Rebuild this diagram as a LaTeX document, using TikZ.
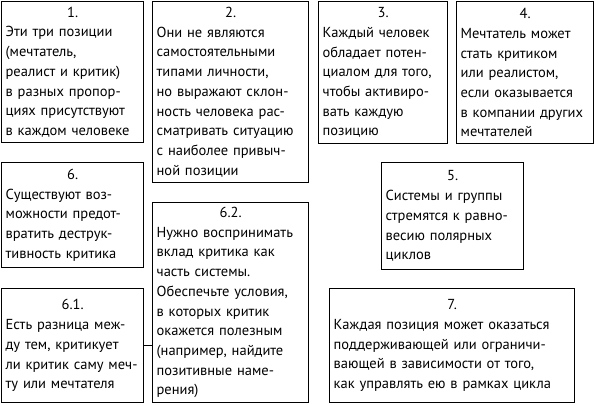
\documentclass[tikz,border=0pt]{standalone}
\usepackage{fontspec}
\setmainfont{PT Sans}
\usepackage{tikz}

\newcommand{\cardnum}[1]{\hbox to\hsize{\hfil#1\hfil}\\}

\begin{document}
\begin{tikzpicture}[x=1pt, y=1pt,
  card/.style={draw, line width=1.3pt, anchor=north west, align=left,
    inner xsep=4pt, inner ysep=4pt, font=\fontsize{14.5}{19.7}\selectfont}]
\useasboundingbox (0,0) rectangle (595,405);

\node[card, text width=134pt, minimum width=142pt, minimum height=141pt] (p1) at (1,404)
  {\cardnum{1.}Эти три позиции\\(мечтатель,\\реалист и критик)\\в разных пропор-\\циях присутствуют\\в каждом человеке};
\node[card, text width=148pt, minimum width=156pt, minimum height=181pt] (p2) at (152,404)
  {\cardnum{2.}Они не являются\\самостоятельными\\типами личности,\\но выражают склон-\\ность человека рас-\\сматривать ситуацию\\с наиболее привыч-\\ной позиции};
\node[card, text width=121pt, minimum width=129pt, minimum height=142pt] (p3) at (318,404)
  {\cardnum{3.}Каждый человек\\обладает потен-\\циалом для того,\\чтобы активиро-\\вать каждую\\позицию};
\node[card, text width=129pt, minimum width=137pt, minimum height=142pt] (p4) at (456,404)
  {\cardnum{4.}Мечтатель может\\стать критиком\\или реалистом,\\если оказывается\\в компании других\\мечтателей};

\node[card, text width=134pt, minimum width=142pt, minimum height=105pt] (p6) at (1,243)
  {\cardnum{6.}Существуют воз-\\можности предот-\\вратить деструк-\\тивность критика};
\node[card, text width=134pt, minimum width=142pt, minimum height=107pt] (p5) at (381,243)
  {\cardnum{5.}Системы и группы\\стремятся к равно-\\весию полярных\\циклов};
\node[card, text width=148pt, minimum width=156pt, minimum height=200pt] (p62) at (152,203)
  {\cardnum{6.2.}Нужно воспринимать\\вклад критика как\\часть системы.\\Обеспечьте условия,\\в которых критик\\окажется полезным\\(например, найдите\\позитивные наме-\\рения)};
\node[card, text width=134pt, minimum width=142pt, minimum height=114pt] (p61) at (1,117)
  {\cardnum{6.1.}Есть разница меж-\\ду тем, критикует\\ли критик саму меч-\\ту или мечтателя};
\node[card, text width=237pt, minimum width=245pt, minimum height=114pt] (p7) at (329,117)
  {\cardnum{7.}Каждая позиция может оказаться\\поддерживающей или ограничи-\\вающей в зависимости от того,\\как управлять ею в рамках цикла};

\draw[line width=1.3pt] (p61.east) -- (p61.east -| p62.west);
\end{tikzpicture}
\end{document}
